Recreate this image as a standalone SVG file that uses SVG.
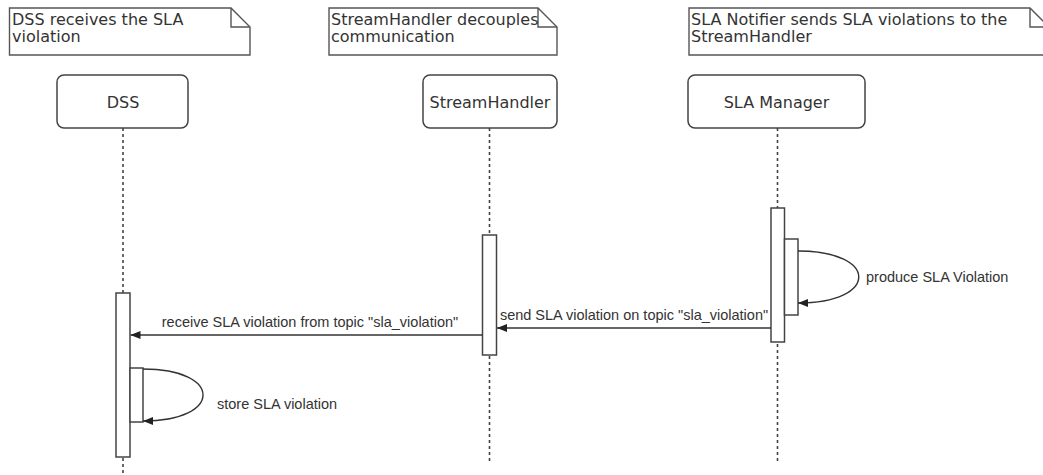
<svg xmlns="http://www.w3.org/2000/svg" width="1043" height="475" viewBox="0 0 1043 475">
  <style>
    .note { fill: #ffffff; stroke: #555555; stroke-width: 1.4; }
    .fold { fill: none; stroke: #555555; stroke-width: 1.4; }
    .note-text { font-family: "DejaVu Sans", Verdana, sans-serif; font-size: 16px; fill: #333333; }
    .actor { fill: #ffffff; stroke: #444444; stroke-width: 1.5; }
    .actor-text { font-family: "DejaVu Sans", Verdana, sans-serif; font-size: 16px; fill: #333333; text-anchor: middle; }
    .lifeline { stroke: #444444; stroke-width: 1.6; stroke-dasharray: 3 3; fill: none; }
    .activation { fill: #ffffff; stroke: #444444; stroke-width: 1.5; }
    .msg { fill: none; stroke: #333333; stroke-width: 1.4; marker-end: url(#head); }
    .msg-text { font-family: "Liberation Sans", Arial, sans-serif; font-size: 14.5px; fill: #333333; }
  </style>
  <defs>
    <marker id="head" viewBox="0 0 10 10" refX="10" refY="5" markerWidth="10" markerHeight="10" markerUnits="userSpaceOnUse" orient="auto">
      <path d="M0,1 L10,5 L0,9 Z" fill="#222222"/>
    </marker>
  </defs>

  <rect width="1043" height="475" fill="#ffffff"/>

  <!-- notes -->
  <g id="note-dss">
    <path class="note" d="M9.5,8 H231 L250,27 V55 H9.5 Z"/>
    <path class="fold" d="M231,8 V27 H250"/>
    <text class="note-text" x="12" y="25">DSS receives the SLA</text>
    <text class="note-text" x="12" y="42">violation</text>
  </g>
  <g id="note-streamhandler">
    <path class="note" d="M329,8 H538 L557,27 V55 H329 Z"/>
    <path class="fold" d="M538,8 V27 H557"/>
    <text class="note-text" x="331" y="25">StreamHandler decouples</text>
    <text class="note-text" x="331" y="42">communication</text>
  </g>
  <g id="note-sla-manager">
    <path class="note" d="M689,8 H1030 L1049,27 V55 H689 Z"/>
    <path class="fold" d="M1030,8 V27 H1049"/>
    <text class="note-text" x="691" y="25">SLA Notifier sends SLA violations to the</text>
    <text class="note-text" x="691" y="42">StreamHandler</text>
  </g>

  <!-- lifelines (participants) -->
  <g id="dss">
    <line class="lifeline" x1="123" y1="128" x2="123" y2="475"/>
    <rect class="actor" x="57" y="75" width="131" height="53" rx="7"/>
    <text class="actor-text" x="123" y="108">DSS</text>
    <rect class="activation" x="116" y="293" width="14" height="164"/>
    <rect class="activation" x="130" y="368" width="13" height="54"/>
  </g>
  <g id="streamhandler">
    <line class="lifeline" x1="489.5" y1="128" x2="489.5" y2="461"/>
    <rect class="actor" x="423" y="75" width="134" height="53" rx="7"/>
    <text class="actor-text" x="490" y="108">StreamHandler</text>
    <rect class="activation" x="482.5" y="235" width="14" height="120"/>
  </g>
  <g id="sla-manager">
    <line class="lifeline" x1="777.5" y1="128" x2="777.5" y2="461"/>
    <rect class="actor" x="688" y="75" width="177" height="53" rx="7"/>
    <text class="actor-text" x="776.5" y="108">SLA Manager</text>
    <rect class="activation" x="771" y="208" width="13.5" height="134"/>
    <rect class="activation" x="784.5" y="239" width="13.5" height="76"/>
  </g>

  <!-- messages -->
  <g id="connectors">
    <path class="msg" d="M798,251 C879,251 879,303 798,303"/>
    <text class="msg-text" x="866" y="282">produce SLA Violation</text>

    <path class="msg" d="M771,328 H497"/>
    <text class="msg-text" x="634" y="320" text-anchor="middle">send SLA violation on topic "sla_violation"</text>

    <path class="msg" d="M482.5,335 H130.5"/>
    <text class="msg-text" x="310" y="327" text-anchor="middle">receive SLA violation from topic "sla_violation"</text>

    <path class="msg" d="M143,369 C223,369 223,421 143,421"/>
    <text class="msg-text" x="217" y="409">store SLA violation</text>
  </g>
</svg>
